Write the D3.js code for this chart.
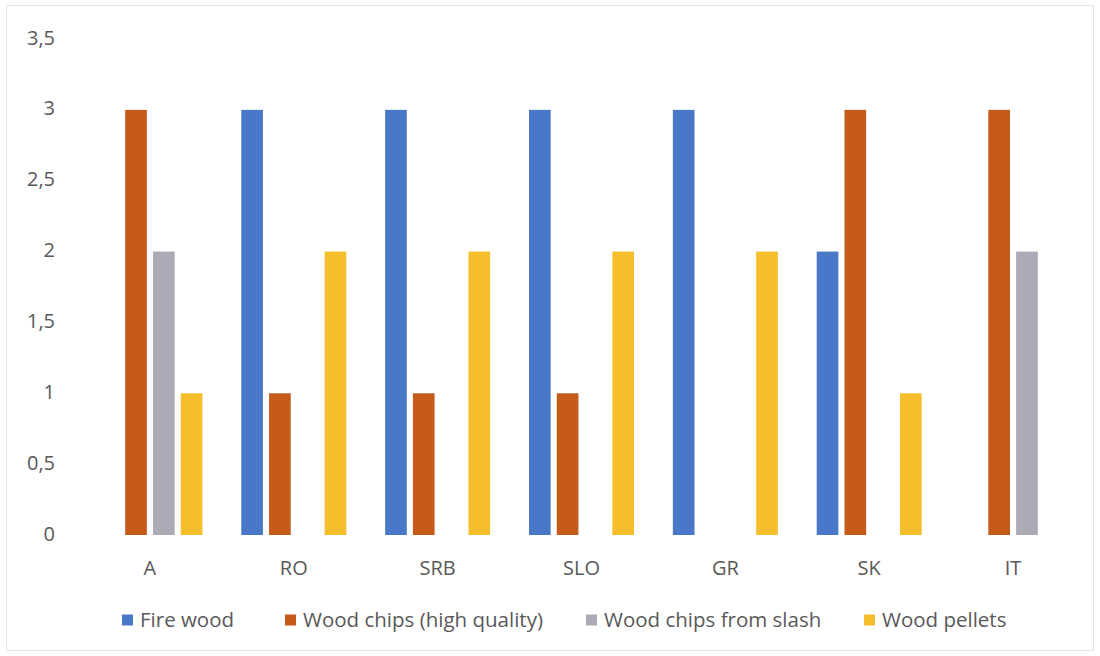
<!DOCTYPE html>
<html>
<head>
<meta charset="utf-8">
<script src="https://cdn.jsdelivr.net/npm/d3@7"></script>
<style>
  html, body { margin: 0; padding: 0; background: #fff; }
  svg { display: block; font-family: "Open Sans", "Noto Sans", sans-serif; }
</style>
</head>
<body>
<svg id="chart" width="1100" height="656"></svg>
<script>
// Countries on the x axis
const countries = ["A", "RO", "SRB", "SLO", "GR", "SK", "IT"];

// Fuel types shown as bars within each country group
const seriesNames = ["Fire wood", "Wood chips (high quality)", "Wood chips from slash", "Wood pellets"];

// Score per fuel type, one value per country
const fireWood     = [0, 3, 3, 3, 3, 2, 0];
const chipsHigh    = [3, 1, 1, 1, 0, 3, 3];
const chipsSlash   = [2, 0, 0, 0, 0, 0, 2];
const woodPellets  = [1, 2, 2, 2, 2, 1, 0];

// Y axis tick labels (comma decimal separator)
const yTicks = [0, 0.5, 1, 1.5, 2, 2.5, 3, 3.5];

const seriesValues = [fireWood, chipsHigh, chipsSlash, woodPellets];
const colors = ["#4a78c8", "#c65a1a", "#aaabb6", "#f7be2c"];

const FONT = '"Open Sans", "Noto Sans", sans-serif';
const svg = d3.select("#chart");

// faint outer frame of the chart area
svg.append("rect")
  .attr("x", 6.5).attr("y", 5.5)
  .attr("width", 1087).attr("height", 645)
  .attr("fill", "#fff")
  .attr("stroke", "#e4e4e4")
  .attr("stroke-width", 1);

const plot = { left: 78, right: 1085, top: 39, bottom: 535 };

const x0 = d3.scaleBand()
  .domain(countries)
  .range([plot.left, plot.right])
  .paddingInner(0.27)
  .paddingOuter(0.135);

const x1 = d3.scaleBand()
  .domain(d3.range(seriesNames.length))
  .range([0, x0.bandwidth()])
  .paddingInner(0.22);

const y = d3.scaleLinear()
  .domain([0, 3.5])
  .range([plot.bottom, plot.top]);

const fmt = v => String(v).replace(".", ",");

// y axis labels only (no line, no ticks)
const yAxis = svg.append("g")
  .attr("transform", `translate(${plot.left - 23},0)`)
  .call(d3.axisLeft(y).tickValues(yTicks).tickFormat(fmt).tickSize(0).tickPadding(0))
  .attr("font-family", FONT)
  .attr("font-size", 20);
yAxis.select(".domain").remove();
yAxis.selectAll("text")
  .attr("fill", "#595959")
  .attr("dy", "0.25em");

// x axis category labels
const xAxis = svg.append("g")
  .attr("transform", `translate(0,${plot.bottom})`)
  .call(d3.axisBottom(x0).tickSize(0).tickPadding(0))
  .attr("font-family", FONT)
  .attr("font-size", 20);
xAxis.select(".domain").remove();
xAxis.selectAll("text")
  .attr("fill", "#595959")
  .attr("y", 33)
  .attr("dy", "0.35em");

// grouped bars
const groups = svg.append("g")
  .selectAll("g")
  .data(countries)
  .join("g")
  .attr("transform", d => `translate(${x0(d)},0)`);

groups.selectAll("rect")
  .data((c, ci) => seriesValues.map((vals, si) => ({ si, v: vals[ci] })))
  .join("rect")
  .attr("x", d => x1(d.si))
  .attr("width", x1.bandwidth())
  .attr("y", d => y(d.v))
  .attr("height", d => y(0) - y(d.v))
  .attr("fill", d => colors[d.si]);

// legend
const legendX = [122, 285, 586, 864];
const legend = svg.append("g").attr("transform", "translate(0,620)");
const items = legend.selectAll("g")
  .data(seriesNames)
  .join("g")
  .attr("transform", (d, i) => `translate(${legendX[i]},0)`);
items.append("rect")
  .attr("x", 0).attr("y", -5.5)
  .attr("width", 11).attr("height", 11)
  .attr("fill", (d, i) => colors[i]);
items.append("text")
  .attr("x", 18)
  .attr("dy", "0.35em")
  .attr("fill", "#595959")
  .attr("font-size", 20.5)
  .text(d => d);
</script>
</body>
</html>
